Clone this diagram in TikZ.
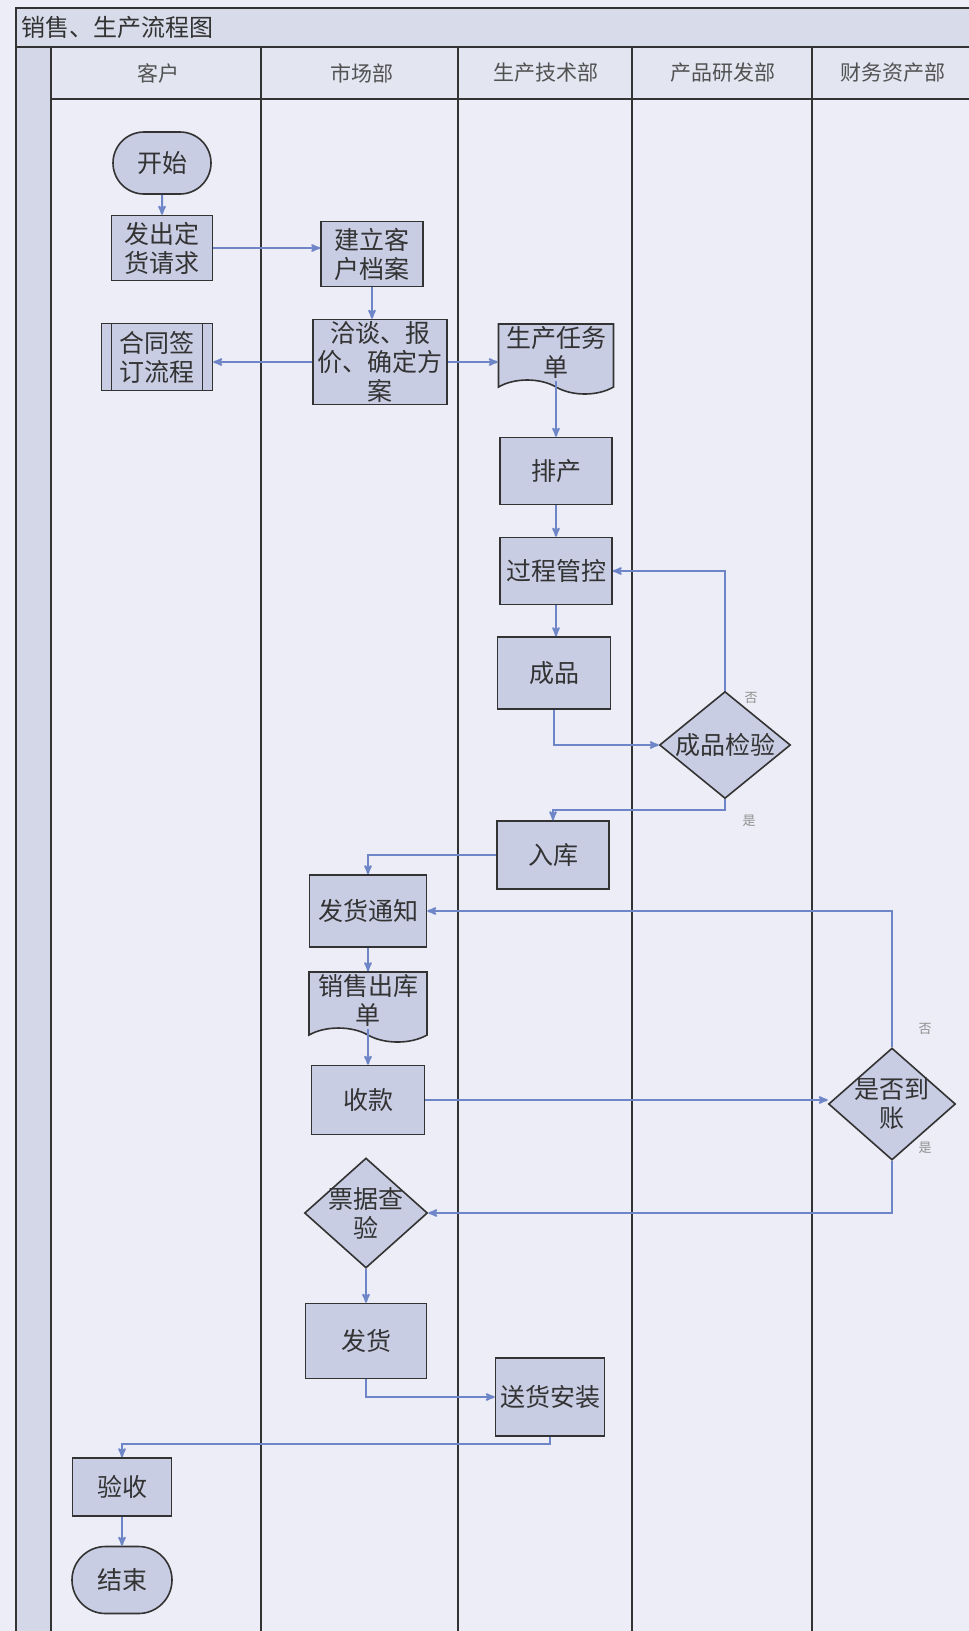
\documentclass[tikz,border=0pt]{standalone}
\usepackage{fontspec}
\setmainfont{Noto Sans CJK SC}
\usetikzlibrary{positioning}
\usetikzlibrary{arrows}
\usetikzlibrary{calc}
\usetikzlibrary{shapes.geometric}
\usetikzlibrary{shapes.misc}
\usetikzlibrary{shapes.symbols}
\tikzset{>=stealth'}
\definecolor{paper}{HTML}{ECEDF6}
\definecolor{bar}{HTML}{D8DBEA}
\definecolor{strip}{HTML}{D4D7E7}
\definecolor{head}{HTML}{E3E5F1}
\definecolor{boxfill}{HTML}{C9CDE4}
\definecolor{linkblue}{HTML}{6E86C8}
\definecolor{ink}{HTML}{333333}
\tikzset{
    box/.style={draw=ink, line width=1.6pt, fill=boxfill, text=ink, align=center, inner sep=2pt, font=\fontsize{25}{29}\selectfont},
    term/.style={box, rounded rectangle},
    doc/.style={box, tape, tape bend top=none, tape bend bottom=out and in, tape bend height=14pt},
    sub/.style={box, path picture={
        \draw[ink, line width=1.6pt] ([xshift=10pt]path picture bounding box.north west) -- ([xshift=10pt]path picture bounding box.south west);
        \draw[ink, line width=1.6pt] ([xshift=-10pt]path picture bounding box.north east) -- ([xshift=-10pt]path picture bounding box.south east);}},
    decide/.style={box, diamond, inner sep=0pt},
    mid/.style={text=ink, align=center, font=\fontsize{25}{29}\selectfont},
    link/.style={draw=linkblue, line width=2pt, ->},
    note/.style={text=ink!55, font=\fontsize{13}{15}\selectfont},
    lane/.style={draw=ink, line width=1.6pt},
    lanehead/.style={text=ink!85, font=\fontsize{21}{24}\selectfont}
}
\begin{document}
\begin{tikzpicture}[x=1pt, y=-1pt]
        \useasboundingbox (0,0) rectangle (969,1631);
        \fill[paper] (0,0) rectangle (969,1631);
        \fill[bar] (16,8) rectangle (969,47);
        \fill[strip] (16,47) rectangle (51,1631);
        \fill[head] (51,47) rectangle (969,99);
        \draw[lane] (969,8) -- (16,8) -- (16,1631);
        \draw[lane] (16,47) -- (969,47);
        \draw[lane] (51,99) -- (969,99);
        \draw[lane] (51,47) -- (51,1631);
        \draw[lane] (261,47) -- (261,1631);
        \draw[lane] (458,47) -- (458,1631);
        \draw[lane] (632,47) -- (632,1631);
        \draw[lane] (812,47) -- (812,1631);

        \node[anchor=west, text=ink, font=\fontsize{24}{28}\selectfont] (title) at (18,27) {销售、生产流程图};
        \node[lanehead] (h1) at (158,73) {客户};
        \node[lanehead] (h2) at (362,73) {市场部};
        \node[lanehead] (h3) at (546,73) {生产技术部};
        \node[lanehead] (h4) at (723,73) {产品研发部};
        \node[lanehead] (h5) at (893,73) {财务资产部};

        \node[term, minimum width=102pt, minimum height=62pt] (start) at (162,163) {开始};
        \node[box, minimum width=101pt, minimum height=65pt] (order) at (162,248) {发出定\\货请求};
        \node[box, minimum width=102pt, minimum height=65pt] (archive) at (372,254) {建立客\\户档案};
        \node[sub, minimum width=111pt, minimum height=67pt] (contract) at (157,357) {合同签\\订流程};
        \node[box, minimum width=134pt, minimum height=82pt] (quote) at (380,362) {洽谈、报\\价、确定方\\案};
        \node[doc, minimum width=115pt, minimum height=70pt] (task) at (556,352) {生产任务\\单};
        \node[box, minimum width=112pt, minimum height=67pt] (sched) at (556,471) {排产};
        \node[box, minimum width=112pt, minimum height=67pt] (control) at (556,571) {过程管控};
        \node[box, minimum width=113pt, minimum height=72pt] (product) at (554,673) {成品};
        \node[decide, minimum width=131pt, minimum height=107pt, label={[mid]center:成品检验}] (check) at (725,745) {};
        \node[box, minimum width=112pt, minimum height=68pt] (store) at (553,855) {入库};
        \node[box, minimum width=117pt, minimum height=72pt] (notice) at (368,911) {发货通知};
        \node[doc, minimum width=118pt, minimum height=60pt] (outbill) at (368,1000) {销售出库\\单};
        \node[box, minimum width=113pt, minimum height=69pt] (payment) at (368,1100) {收款};
        \node[decide, minimum width=127pt, minimum height=112pt, label={[mid]center:是否到\\账}] (paid) at (892,1104) {};
        \node[decide, minimum width=123pt, minimum height=110pt, label={[mid]center:票据查\\验}] (invoice) at (366,1213) {};
        \node[box, minimum width=121pt, minimum height=75pt] (ship) at (366,1341) {发货};
        \node[box, minimum width=109pt, minimum height=78pt] (install) at (550,1397) {送货安装};
        \node[box, minimum width=99pt, minimum height=58pt] (accept) at (122,1487) {验收};
        \node[term, minimum width=104pt, minimum height=67pt] (finish) at (122,1580) {结束};

        \draw[link] (start) -- (order);
        \draw[link] (order.east) -- (order.east -| archive.west);
        \draw[link] (archive.south) -- (archive.south |- quote.north);
        \draw[link] (quote.west) -- (quote.west -| contract.east);
        \draw[link] (quote.east) -- (quote.east -| task.west);
        \draw[link] (task.south) -- (sched.north);
        \draw[link] (sched) -- (control);
        \draw[link] (control.south) -- (control.south |- product.north);
        \draw[link] (product.south) |- (check.west);
        \draw[link] (check.north) |- node[note, pos=0, xshift=26pt, yshift=-7pt] {否} (control.east);
        \draw[link] (check.south) |- node[note, pos=0, xshift=24pt, yshift=-22pt] {是} ([yshift=10pt]store.north) -- (store.north);
        \draw[link] (store.west) -| (notice.north);
        \draw[link] (notice) -- (outbill);
        \draw[link] (outbill.south) -- (payment.north);
        \draw[link] (payment.east) -- (payment.east -| paid.west);
        \draw[link] (paid.north) |- node[note, pos=0, xshift=33pt, yshift=18pt] {否} (notice.east);
        \draw[link] (paid.south) |- node[note, pos=0, xshift=33pt, yshift=13pt] {是} (invoice.east);
        \draw[link] (invoice) -- (ship);
        \draw[link] (ship.south) |- (install.west);
        \draw[link] (install.south) |- ([yshift=13pt]accept.north) -- (accept.north);
        \draw[link] (accept) -- (finish);
\end{tikzpicture}
\end{document}
